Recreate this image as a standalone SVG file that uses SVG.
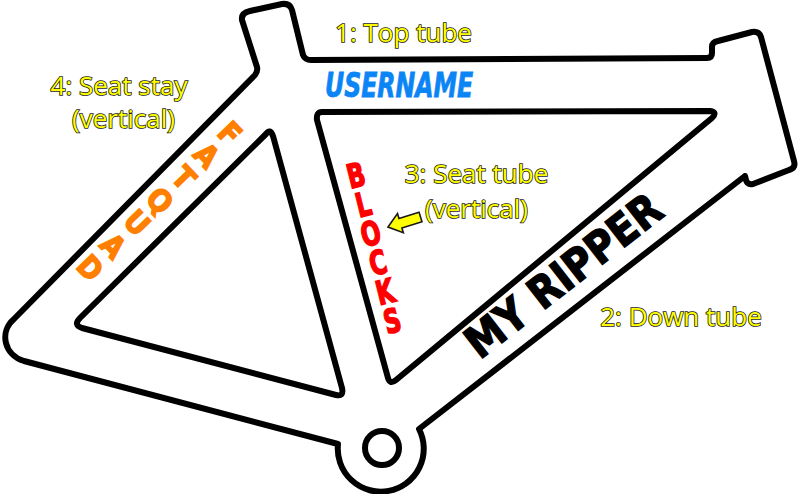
<svg xmlns="http://www.w3.org/2000/svg" width="800" height="494" viewBox="0 0 800 494">
  <defs>
    <style>
      .frame { fill: #ffffff; stroke: #000000; stroke-width: 6; stroke-linejoin: round; fill-rule: evenodd; }
      .label { font-family: "Open Sans", "Noto Sans", "DejaVu Sans", sans-serif; font-size: 26px; fill: #ffff00; stroke: #1a1a1a; stroke-width: 1.6; paint-order: stroke fill; text-anchor: middle; }
      .deco { font-family: "DejaVu Sans", "Liberation Sans", sans-serif; font-weight: bold; text-anchor: middle; }
      .arrow { fill: #ffff00; stroke: #1a1a1a; stroke-width: 1.6; stroke-linejoin: miter; }
    </style>
  </defs>
  <rect x="0" y="0" width="800" height="494" fill="#ffffff"/>

  <g id="frame">
    <path class="frame" d="M 250,11 L 282,4 Q 290,3 292,10 L 303,55 Q 305,60 311,60 L 707,58 Q 712,58 712,53 L 712,47 Q 712,42 718,41 L 752,32 Q 759,31 761,37 L 794,161 Q 796,168 789,170 L 753,184 Q 747,185 746,180 L 745,176 L 419,429 A 43 43 0 1 1 338,444 L 24,361 C 4,355 -1,332 14,319 L 255,75 Q 258,71 257,67 L 242,20 Q 241,13 250,11 Z
      M 322,112 L 710,111 Q 718,112 712,118 L 396,380 Q 390,385 388,378 L 317,120 Q 316,112 322,112 Z
      M 266,134 Q 270,128 273,136 L 342,388 Q 344,397 336,395 L 82,328 Q 73,325 80,318 Z"/>
    <circle cx="382" cy="448" r="17" fill="#ffffff" stroke="#000000" stroke-width="6"/>
  </g>

  <g id="decal-username">
    <text class="deco" x="399" y="97" font-size="33" font-style="oblique" fill="#0b84f5" stroke="#0b84f5" stroke-width="0.8" textLength="148" lengthAdjust="spacingAndGlyphs">USERNAME</text>
  </g>

  <g id="decal-myripper" transform="translate(563,275) rotate(-38)">
    <text class="deco" x="0" y="16" font-size="44" fill="#000000" stroke="#000000" stroke-width="1.5" textLength="236" lengthAdjust="spacingAndGlyphs">MY  RIPPER</text>
  </g>

  <g id="decal-blocks" transform="translate(356,175) rotate(-14)" fill="#ff0000" stroke="#ff0000" stroke-width="1.6">
    <g transform="scale(0.7,1)">
      <text class="deco" x="0" y="12" font-size="33">B</text>
      <text class="deco" x="0" y="42" font-size="33">L</text>
      <text class="deco" x="0" y="72" font-size="33">O</text>
      <text class="deco" x="0" y="102" font-size="33">C</text>
      <text class="deco" x="0" y="132" font-size="33">K</text>
      <text class="deco" x="0" y="162" font-size="33">S</text>
    </g>
  </g>

  <g id="decal-fatquad" transform="translate(230,133) rotate(46)" fill="#ff8000" stroke="#ff8000" stroke-width="1.6">
    <g transform="scale(0.9,1)">
      <text class="deco" x="0" y="11" font-size="30">F</text>
      <text class="deco" x="0" y="43" font-size="30">A</text>
      <text class="deco" x="0" y="75" font-size="30">T</text>
      <text class="deco" x="0" y="108" font-size="30">Q</text>
      <text class="deco" x="0" y="140" font-size="30">U</text>
      <text class="deco" x="0" y="173" font-size="30">A</text>
      <text class="deco" x="0" y="205" font-size="30">D</text>
    </g>
  </g>

  <g id="label-top-tube">
    <text class="label" x="403.5" y="42">1: Top tube</text>
  </g>
  <g id="label-seat-stay">
    <text class="label" x="119" y="95">4: Seat stay</text>
    <text class="label" x="123.5" y="128">(vertical)</text>
  </g>
  <g id="label-seat-tube">
    <text class="label" x="476.5" y="183">3: Seat tube</text>
    <text class="label" x="476.5" y="218">(vertical)</text>
  </g>
  <g id="label-down-tube">
    <text class="label" x="681" y="326">2: Down tube</text>
  </g>

  <g id="connectors">
    <path class="arrow" transform="translate(388,227) rotate(-17)" d="M 0,0 L 13,-10 L 13,-5 L 34,-5 L 34,5 L 13,5 L 13,10 Z"/>
  </g>
</svg>
